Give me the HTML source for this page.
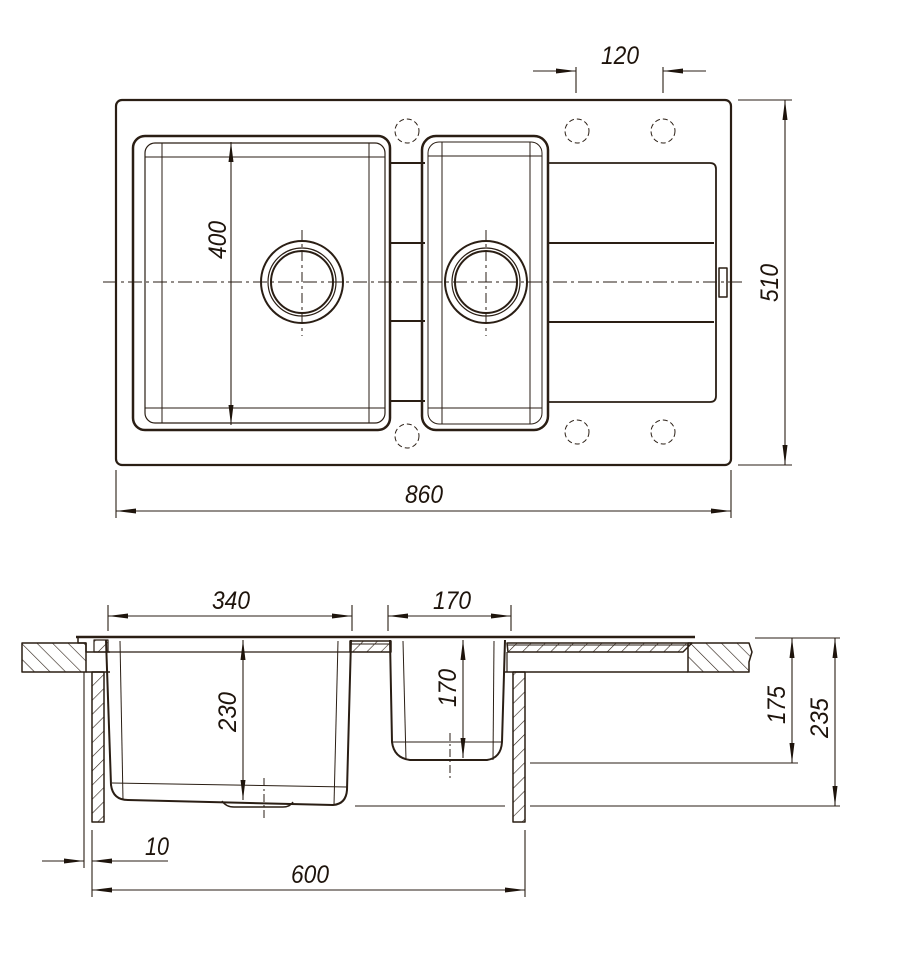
<!DOCTYPE html>
<html><head><meta charset="utf-8"><style>
html,body{margin:0;padding:0;background:#fff;}
svg{display:block;}
text{font-family:"Liberation Sans",sans-serif;font-style:italic;font-size:25px;fill:#1e140c;}
</style></head><body>
<svg width="900" height="954" viewBox="0 0 900 954" xmlns="http://www.w3.org/2000/svg">
<defs>
<marker id="a" viewBox="0 0 20 8" refX="20" refY="4" markerWidth="20" markerHeight="8" markerUnits="userSpaceOnUse" orient="auto-start-reverse"><path d="M0,1.5 L20,4 L0,6.5 Z" fill="#1e140c"/></marker>
<pattern id="h" width="10" height="10" patternUnits="userSpaceOnUse" patternTransform="rotate(45)"><line x1="0" y1="0" x2="0" y2="10" stroke="#2a1e14" stroke-width="1.2"/></pattern>
<pattern id="h2" width="11" height="11" patternUnits="userSpaceOnUse" patternTransform="rotate(-45)"><line x1="0" y1="0" x2="0" y2="11" stroke="#2a1e14" stroke-width="1.2"/></pattern>
</defs>
<g fill="none" stroke="#2a1e14" stroke-linejoin="round">
<!-- TOP VIEW -->
<rect x="116" y="100" width="615" height="365" rx="6" stroke-width="2.2"/>
<rect x="133" y="136" width="257" height="294" rx="12" stroke-width="2.5"/>
<rect x="145" y="143" width="240" height="280" rx="10" stroke-width="1.2"/>
<line x1="145" y1="157" x2="385" y2="157" stroke-width="1"/>
<line x1="145" y1="408" x2="385" y2="408" stroke-width="1"/>
<line x1="162" y1="143" x2="162" y2="423" stroke-width="1"/>
<line x1="369" y1="143" x2="369" y2="423" stroke-width="1"/>
<line x1="389" y1="163" x2="425" y2="163" stroke-width="2"/>
<line x1="389" y1="243" x2="425" y2="243" stroke-width="2"/>
<line x1="389" y1="321" x2="425" y2="321" stroke-width="2"/>
<line x1="389" y1="401" x2="425" y2="401" stroke-width="2"/>
<rect x="422" y="136" width="126" height="294" rx="14" stroke-width="2.5"/>
<rect x="428" y="142" width="114" height="282" rx="11" stroke-width="1"/>
<line x1="428" y1="156" x2="542" y2="156" stroke-width="1"/>
<line x1="428" y1="408" x2="542" y2="408" stroke-width="1"/>
<line x1="442" y1="142" x2="442" y2="424" stroke-width="1"/>
<line x1="530" y1="142" x2="530" y2="424" stroke-width="1"/>
<path d="M548,163 H710 Q716,163 716,169 V396 Q716,402 710,402 H548" stroke-width="1.8"/>
<line x1="548" y1="243" x2="714" y2="243" stroke-width="2"/>
<line x1="548" y1="322" x2="714" y2="322" stroke-width="2"/>
<rect x="719" y="268" width="8" height="29" stroke-width="1.5"/>
<circle cx="302" cy="282" r="41" stroke-width="2"/>
<circle cx="302" cy="282" r="34" stroke-width="1.2"/>
<circle cx="302" cy="282" r="31" stroke-width="2"/>
<circle cx="486" cy="282" r="41" stroke-width="2"/>
<circle cx="486" cy="282" r="34" stroke-width="1.2"/>
<circle cx="486" cy="282" r="31" stroke-width="2"/>
<line x1="103" y1="282" x2="745" y2="282" stroke-width="1" stroke-dasharray="14,4,3,4"/>
<line x1="302" y1="230" x2="302" y2="336" stroke-width="1" stroke-dasharray="10,4,3,4"/>
<line x1="486" y1="230" x2="486" y2="336" stroke-width="1" stroke-dasharray="10,4,3,4"/>
<g stroke-width="1" stroke-dasharray="5,3">
<circle cx="407" cy="131" r="12"/><circle cx="407" cy="436" r="12"/>
<circle cx="577" cy="131" r="12"/><circle cx="663" cy="131" r="12"/>
<circle cx="577" cy="432" r="12"/><circle cx="663" cy="432" r="12"/>
</g>
<g stroke-width="1.1">
<line x1="231" y1="142" x2="231" y2="425" marker-start="url(#a)" marker-end="url(#a)"/>
<line x1="576" y1="67" x2="576" y2="93"/><line x1="663" y1="67" x2="663" y2="93"/>
<line x1="533" y1="71" x2="576" y2="71" marker-end="url(#a)"/>
<line x1="706" y1="71" x2="663" y2="71" marker-end="url(#a)"/>
<line x1="738" y1="100" x2="792" y2="100"/><line x1="738" y1="465" x2="792" y2="465"/>
<line x1="785" y1="100" x2="785" y2="465" marker-start="url(#a)" marker-end="url(#a)"/>
<line x1="116" y1="470" x2="116" y2="518"/><line x1="731" y1="470" x2="731" y2="518"/>
<line x1="116" y1="511" x2="731" y2="511" marker-start="url(#a)" marker-end="url(#a)"/>
</g>

<!-- SECTION VIEW -->
<rect x="22" y="643" width="64" height="29" fill="url(#h2)" stroke-width="1.5"/>
<line x1="76" y1="637" x2="695" y2="637" stroke-width="2.5"/>
<path d="M78,637 V643 H86 V652 H110" stroke-width="1.5"/>
<rect x="94" y="640" width="14" height="12" fill="url(#h)" stroke-width="1.2"/>
<line x1="86" y1="672" x2="110" y2="672" stroke-width="1.5"/>
<line x1="108" y1="652" x2="350" y2="652" stroke-width="1.2"/>
<rect x="92" y="672" width="12" height="150" fill="url(#h)" stroke-width="1.5"/>
<path d="M106,640 L111,785 Q113,800 128,800 L333,805 Q346,804 347,790 L351,640" stroke-width="2"/>
<line x1="120" y1="641" x2="123" y2="800" stroke-width="1"/>
<line x1="338" y1="641" x2="334" y2="805" stroke-width="1"/>
<line x1="112" y1="783" x2="347" y2="787" stroke-width="1"/>
<path d="M222,801 Q226,807 234,807 H283 Q290,807 293,802" stroke-width="1.5"/>
<line x1="264" y1="778" x2="264" y2="820" stroke-width="1" stroke-dasharray="8,3,2,3"/>
<rect x="350" y="641" width="41" height="11" fill="url(#h)" stroke-width="1.5"/>
<line x1="350" y1="644" x2="391" y2="644" stroke-width="1"/>
<path d="M390,640 L392,742 Q394,758 410,760 L487,760 Q501,758 502,742 L505,640" stroke-width="2"/>
<line x1="403" y1="641" x2="406" y2="760" stroke-width="1"/>
<line x1="494" y1="641" x2="493" y2="760" stroke-width="1"/>
<line x1="392" y1="742" x2="502" y2="742" stroke-width="1"/>
<line x1="450" y1="733" x2="450" y2="780" stroke-width="1" stroke-dasharray="8,3,2,3"/>
<path d="M507,643 L508,652 H683 L692,643 Z" fill="url(#h)" stroke-width="1.5"/>
<line x1="507" y1="645" x2="690" y2="645" stroke-width="1"/>
<line x1="505" y1="672" x2="688" y2="672" stroke-width="1.5"/>
<line x1="507" y1="652" x2="507" y2="672" stroke-width="1.2"/>
<path d="M688,643 H749 L752,652 L749,662 L749,672 H688 Z" fill="url(#h2)" stroke-width="1.5"/>
<rect x="513" y="672" width="12" height="150" fill="url(#h)" stroke-width="1.5"/>
<g stroke-width="1.1">
<line x1="108" y1="605" x2="108" y2="631"/><line x1="352" y1="605" x2="352" y2="631"/>
<line x1="108" y1="616" x2="352" y2="616" marker-start="url(#a)" marker-end="url(#a)"/>
<line x1="388" y1="605" x2="388" y2="631"/><line x1="511" y1="605" x2="511" y2="631"/>
<line x1="388" y1="616" x2="511" y2="616" marker-start="url(#a)" marker-end="url(#a)"/>
<line x1="243" y1="640" x2="243" y2="800" marker-start="url(#a)" marker-end="url(#a)"/>
<line x1="463" y1="640" x2="463" y2="758" marker-start="url(#a)" marker-end="url(#a)"/>
<line x1="755" y1="638" x2="840" y2="638"/>
<line x1="530" y1="763" x2="798" y2="763"/>
<line x1="530" y1="806" x2="840" y2="806"/><line x1="355" y1="806" x2="505" y2="806"/>
<line x1="792" y1="638" x2="792" y2="763" marker-start="url(#a)" marker-end="url(#a)"/>
<line x1="835" y1="638" x2="835" y2="806" marker-start="url(#a)" marker-end="url(#a)"/>
<line x1="84" y1="672" x2="84" y2="868"/><line x1="92" y1="830" x2="92" y2="897"/>
<line x1="42" y1="861" x2="84" y2="861" marker-end="url(#a)"/>
<line x1="168" y1="861" x2="92" y2="861" marker-end="url(#a)"/>
<line x1="525" y1="830" x2="525" y2="897"/>
<line x1="92" y1="890" x2="525" y2="890" marker-start="url(#a)" marker-end="url(#a)"/>
</g>
</g>
<text x="620" y="64" text-anchor="middle" textLength="38" lengthAdjust="spacingAndGlyphs">120</text>
<text transform="translate(226,240) rotate(-90)" text-anchor="middle" textLength="38" lengthAdjust="spacingAndGlyphs">400</text>
<text transform="translate(778,283) rotate(-90)" text-anchor="middle" textLength="38" lengthAdjust="spacingAndGlyphs">510</text>
<text x="424" y="503" text-anchor="middle" textLength="38" lengthAdjust="spacingAndGlyphs">860</text>
<text x="231" y="609" text-anchor="middle" textLength="38" lengthAdjust="spacingAndGlyphs">340</text>
<text x="452" y="609" text-anchor="middle" textLength="38" lengthAdjust="spacingAndGlyphs">170</text>
<text transform="translate(236,712) rotate(-90)" text-anchor="middle" textLength="40" lengthAdjust="spacingAndGlyphs">230</text>
<text transform="translate(456,688) rotate(-90)" text-anchor="middle" textLength="38" lengthAdjust="spacingAndGlyphs">170</text>
<text transform="translate(785,705) rotate(-90)" text-anchor="middle" textLength="38" lengthAdjust="spacingAndGlyphs">175</text>
<text transform="translate(828,718) rotate(-90)" text-anchor="middle" textLength="40" lengthAdjust="spacingAndGlyphs">235</text>
<text x="157" y="855" text-anchor="middle" textLength="24" lengthAdjust="spacingAndGlyphs">10</text>
<text x="310" y="883" text-anchor="middle" textLength="38" lengthAdjust="spacingAndGlyphs">600</text>
</svg>
</body></html>
